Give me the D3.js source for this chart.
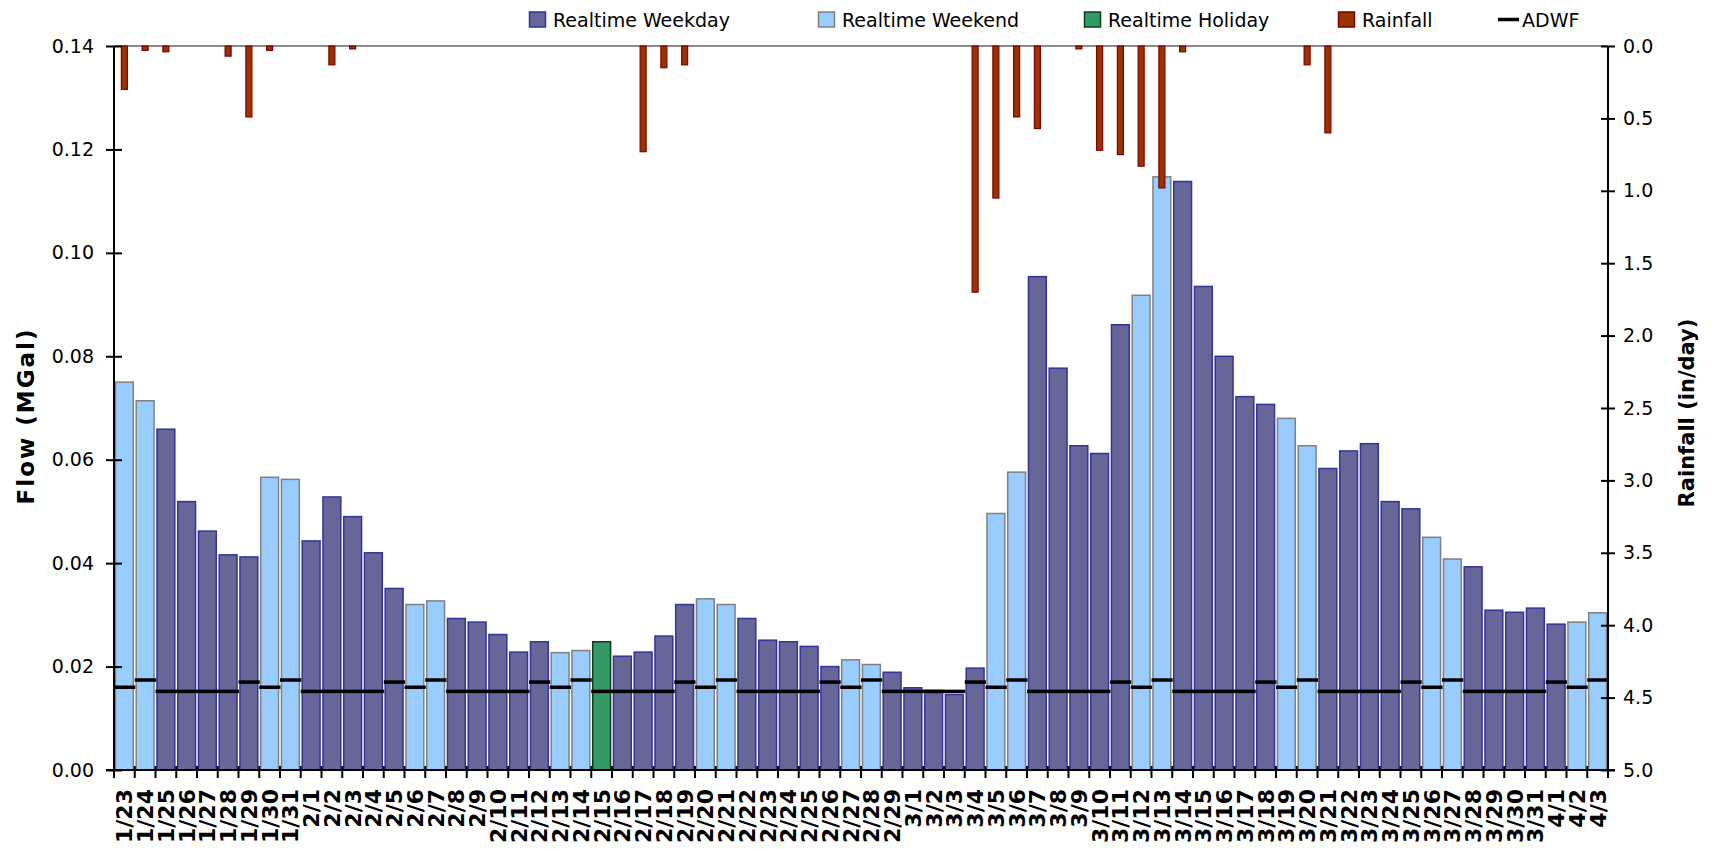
<!DOCTYPE html>
<html lang="en">
<head>
<meta charset="UTF-8">
<title>Flow and Rainfall</title>
<style>
    body { margin: 0; background: #fff; }
    svg text { font-family: "DejaVu Sans", Verdana, sans-serif; fill: #000; }
    .axis path { display: none; }
    .axis line { stroke: #000; stroke-width: 2px; }
    .yaxis text { font-size: 19px; }
    .xaxis text { font-size: 22px; font-weight: bold; }
    .title { font-size: 21px; font-weight: bold; }
    .legend text { font-size: 19px; }
</style>
</head>
<body>
<div id="chart"></div>
<script src="https://cdn.jsdelivr.net/npm/d3@7"></script>
<script>
    // categories: one per day, 1/23 .. 4/3
    var dates = ["1/23","1/24","1/25","1/26","1/27","1/28","1/29","1/30","1/31",
        "2/1","2/2","2/3","2/4","2/5","2/6","2/7","2/8","2/9","2/10","2/11","2/12","2/13","2/14","2/15",
        "2/16","2/17","2/18","2/19","2/20","2/21","2/22","2/23","2/24","2/25","2/26","2/27","2/28","2/29",
        "3/1","3/2","3/3","3/4","3/5","3/6","3/7","3/8","3/9","3/10","3/11","3/12","3/13","3/14","3/15",
        "3/16","3/17","3/18","3/19","3/20","3/21","3/22","3/23","3/24","3/25","3/26","3/27","3/28","3/29",
        "3/30","3/31","4/1","4/2","4/3"];

    // W = weekday, E = weekend, H = holiday
    var dayType = ["E","E","W","W","W","W","W","E","E",
        "W","W","W","W","W","E","E","W","W","W","W","W","E","E","H",
        "W","W","W","W","E","E","W","W","W","W","W","E","E","W",
        "W","W","W","W","E","E","W","W","W","W","W","E","E","W","W",
        "W","W","W","E","E","W","W","W","W","W","E","E","W","W",
        "W","W","W","E","E"];

    // realtime flow (MGal)
    var flow = [0.0750,0.0714,0.0659,0.0519,0.0462,0.0416,0.0412,0.0566,0.0562,
        0.0443,0.0528,0.0490,0.0420,0.0351,0.0320,0.0327,0.0293,0.0286,0.0262,0.0228,0.0248,0.0227,0.0231,0.0248,
        0.0220,0.0228,0.0259,0.0320,0.0331,0.0320,0.0293,0.0251,0.0248,0.0239,0.0200,0.0213,0.0204,0.0189,
        0.0159,0.0154,0.0146,0.0197,0.0496,0.0576,0.0954,0.0777,0.0627,0.0612,0.0861,0.0918,0.1147,0.1138,0.0935,
        0.0800,0.0722,0.0707,0.0680,0.0627,0.0583,0.0617,0.0631,0.0519,0.0505,0.0450,0.0408,0.0393,0.0309,
        0.0305,0.0313,0.0282,0.0286,0.0304];

    // average dry weather flow (MGal)
    var adwf = [0.0160,0.0174,0.0152,0.0152,0.0152,0.0152,0.0170,0.0160,0.0174,
        0.0152,0.0152,0.0152,0.0152,0.0170,0.0160,0.0174,0.0152,0.0152,0.0152,0.0152,0.0170,0.0160,0.0174,0.0152,
        0.0152,0.0152,0.0152,0.0170,0.0160,0.0174,0.0152,0.0152,0.0152,0.0152,0.0170,0.0160,0.0174,0.0152,
        0.0152,0.0152,0.0152,0.0170,0.0160,0.0174,0.0152,0.0152,0.0152,0.0152,0.0170,0.0160,0.0174,0.0152,0.0152,
        0.0152,0.0152,0.0170,0.0160,0.0174,0.0152,0.0152,0.0152,0.0152,0.0170,0.0160,0.0174,0.0152,0.0152,
        0.0152,0.0152,0.0170,0.0160,0.0174];

    // rainfall (in/day)
    var rain = [0.30,0.03,0.04,0,0,0.07,0.49,0.03,0,
        0,0.13,0.02,0,0,0,0,0,0,0,0,0,0,0,0,
        0,0.73,0.15,0.13,0,0,0,0,0,0,0,0,0,0,
        0,0,0,1.70,1.05,0.49,0.57,0,0.02,0.72,0.75,0.83,0.98,0.04,0,
        0,0,0,0,0.13,0.60,0,0,0,0,0,0,0,0,
        0,0,0,0,0];

    var flowTicks = [0, 0.02, 0.04, 0.06, 0.08, 0.10, 0.12, 0.14];
    var rainTicks = [0, 0.5, 1, 1.5, 2, 2.5, 3, 3.5, 4, 4.5, 5];

    var legendNames = ["Realtime Weekday", "Realtime Weekend", "Realtime Holiday", "Rainfall", "ADWF"];

    var width = 1713, height = 849;
    var pLeft = 114, pRight = 1608, pTop = 46, pBottom = 770;

    var colors = {
        W: {fill: "#666699", stroke: "#333399"},
        E: {fill: "#99ccff", stroke: "#808080"},
        H: {fill: "#339966", stroke: "#0b3d1b"},
        R: {fill: "#993300", stroke: "#800000"}
    };

    var svg = d3.select("#chart").append("svg")
        .attr("width", width)
        .attr("height", height);

    var x = d3.scaleBand().domain(dates).range([pLeft, pRight]).padding(0);
    var yFlow = d3.scaleLinear().domain([0, 0.14]).range([pBottom, pTop]);
    var yRain = d3.scaleLinear().domain([0, 5]).range([pTop, pBottom]);

    var step = x.step();

    // top border of plot area
    svg.append("line")
        .attr("x1", pLeft).attr("x2", pRight)
        .attr("y1", pTop).attr("y2", pTop)
        .style("stroke", "#8c8c8c").style("stroke-width", 2);

    // flow bars
    svg.append("g").selectAll("rect")
        .data(dates)
        .enter().append("rect")
        .attr("x", function(d) { return x(d) + step * 0.07; })
        .attr("width", step * 0.86)
        .attr("y", function(d, i) { return yFlow(flow[i]); })
        .attr("height", function(d, i) { return yFlow(0) - yFlow(flow[i]); })
        .style("fill", function(d, i) { return colors[dayType[i]].fill; })
        .style("stroke", function(d, i) { return colors[dayType[i]].stroke; })
        .style("stroke-width", 1.5);

    // ADWF dashes, one per day
    svg.append("g").selectAll("line")
        .data(dates)
        .enter().append("line")
        .attr("x1", function(d) { return x(d); })
        .attr("x2", function(d) { return x(d) + step + 0.5; })
        .attr("y1", function(d, i) { return yFlow(adwf[i]); })
        .attr("y2", function(d, i) { return yFlow(adwf[i]); })
        .style("stroke", "#000")
        .style("stroke-width", 3.5);

    // rainfall bars hanging from the top
    var rw = 6;
    svg.append("g").selectAll("rect")
        .data(dates.filter(function(d, i) { return rain[i] > 0; }))
        .enter().append("rect")
        .attr("x", function(d) { return x(d) + step / 2 - rw / 2; })
        .attr("width", rw)
        .attr("y", yRain(0))
        .attr("height", function(d) { return yRain(rain[dates.indexOf(d)]) - yRain(0); })
        .style("fill", colors.R.fill)
        .style("stroke", colors.R.stroke)
        .style("stroke-width", 1.2);

    // left axis
    var gl = svg.append("g")
        .attr("class", "axis yaxis")
        .attr("transform", "translate(" + pLeft + ",0)")
        .call(d3.axisLeft(yFlow).tickValues(flowTicks).tickFormat(d3.format(".2f"))
            .tickSize(8).tickPadding(12));
    gl.selectAll(".tick line").attr("x2", -8).attr("x1", 8);

    // right axis
    var gr = svg.append("g")
        .attr("class", "axis yaxis")
        .attr("transform", "translate(" + pRight + ",0)")
        .call(d3.axisRight(yRain).tickValues(rainTicks).tickFormat(d3.format(".1f"))
            .tickSize(7).tickPadding(8));
    gr.selectAll(".tick line").attr("x1", -7);

    // bottom axis labels
    svg.append("g")
        .attr("class", "axis xaxis")
        .attr("transform", "translate(0," + pBottom + ")")
        .call(d3.axisBottom(x).tickSize(0))
        .selectAll("text")
        .attr("transform", "rotate(-90)")
        .attr("text-anchor", "end")
        .attr("x", -19)
        .attr("y", 0)
        .attr("dy", "0.36em");

    // category boundary ticks
    svg.append("g").selectAll("line")
        .data(dates.concat(["end"]))
        .enter().append("line")
        .attr("x1", function(d, i) { return pLeft + i * step; })
        .attr("x2", function(d, i) { return pLeft + i * step; })
        .attr("y1", pBottom - 4)
        .attr("y2", pBottom + 8)
        .style("stroke", "#000")
        .style("stroke-width", 2);

    // axis lines
    svg.append("line").attr("x1", pLeft).attr("x2", pLeft).attr("y1", pTop).attr("y2", pBottom + 1)
        .style("stroke", "#000").style("stroke-width", 2);
    svg.append("line").attr("x1", pRight).attr("x2", pRight).attr("y1", pTop).attr("y2", pBottom + 1)
        .style("stroke", "#000").style("stroke-width", 2);
    svg.append("line").attr("x1", pLeft - 8).attr("x2", pRight + 7).attr("y1", pBottom).attr("y2", pBottom)
        .style("stroke", "#000").style("stroke-width", 2);

    // axis titles
    svg.append("text")
        .attr("class", "title")
        .attr("transform", "translate(34," + ((pTop + pBottom) / 2 + 8) + ") rotate(-90)")
        .attr("text-anchor", "middle")
        .style("font-size", "23px")
        .style("letter-spacing", "2px")
        .text("Flow (MGal)");
    svg.append("text")
        .attr("class", "title")
        .attr("transform", "translate(1694," + ((pTop + pBottom) / 2 + 5) + ") rotate(-90)")
        .attr("text-anchor", "middle")
        .text("Rainfall (in/day)");

    // legend
    var legendX = [529, 818, 1084, 1338, 1498];
    var legendStyle = [colors.W, colors.E, colors.H, colors.R, null];
    var lg = svg.append("g").attr("class", "legend");
    legendNames.forEach(function(name, i) {
        var g = lg.append("g").attr("transform", "translate(" + legendX[i] + ",0)");
        if (legendStyle[i]) {
            g.append("rect")
                .attr("x", 0.5).attr("y", 12)
                .attr("width", 16).attr("height", 15)
                .style("fill", legendStyle[i].fill)
                .style("stroke", legendStyle[i].stroke)
                .style("stroke-width", 1.5);
        } else {
            g.append("line")
                .attr("x1", 0).attr("x2", 21)
                .attr("y1", 19.5).attr("y2", 19.5)
                .style("stroke", "#000").style("stroke-width", 3.5);
        }
        g.append("text").attr("x", 24).attr("y", 27).text(name);
    });
</script>
</body>
</html>
